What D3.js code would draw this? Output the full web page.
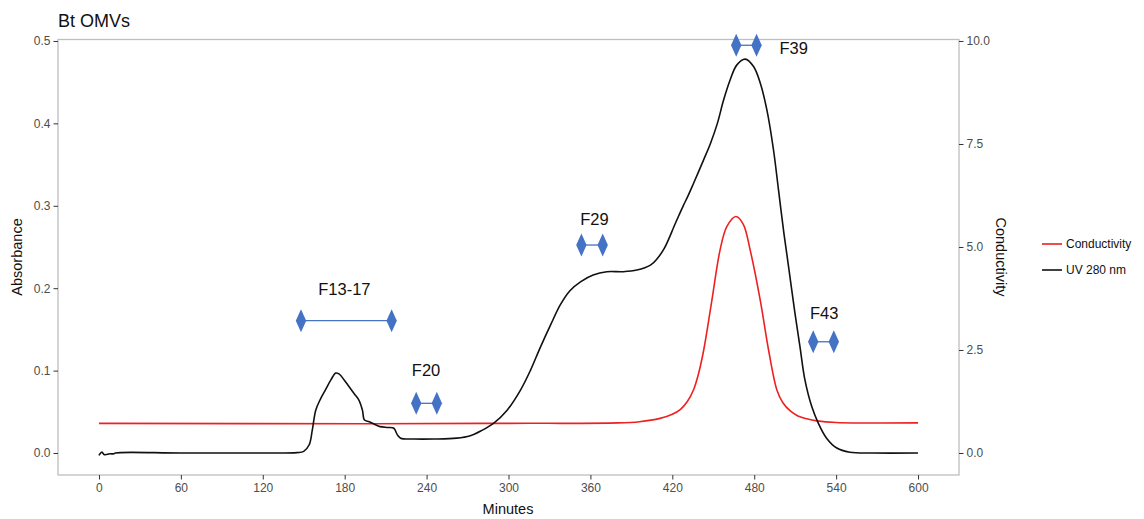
<!DOCTYPE html>
<html>
<head>
<meta charset="utf-8">
<script src="https://cdn.jsdelivr.net/npm/d3@7"></script>
<style>
  body { margin: 0; background: #fff; font-family: "Liberation Sans", Arial, sans-serif; }
  .tick text { fill: #4d4d4d; font-size: 12px; font-family: "Liberation Sans", Arial, sans-serif; }
  .tick line { stroke: #333; }
  .domain { display: none; }
</style>
</head>
<body>
<div id="chart"></div>
<script>
// minutes vs absorbance (UV 280 nm)
var uvTime = [0, 2, 4, 8, 11, 12, 60, 120, 145, 150, 154, 156.3, 158.8, 162.4, 166, 170, 173.4,
  175.8, 179.5, 183, 187, 190.5, 193, 194.5, 198, 203, 206, 212, 216, 218.6, 221, 231, 245, 262,
  272, 280, 289, 299, 309, 316, 323, 331, 338, 345, 353, 362, 372, 384, 394, 404, 409, 414, 418,
  421, 425, 428, 431.5, 435.5, 443, 448, 453, 457.5, 462.4, 467.3, 473.4, 479.5, 484.4, 489.3,
  494.1, 497.8, 501.4, 505.5, 509.8, 513.5, 517.1, 522.2, 527, 533, 540.5, 550, 567, 600];
var uvAbs = [-0.003, 0.001, -0.002, -0.001, -0.001, 0.0, 0.0, 0.0, 0.0005, 0.002, 0.010, 0.028,
  0.052, 0.066, 0.077, 0.089, 0.097, 0.096, 0.089, 0.081, 0.072, 0.064, 0.052, 0.040, 0.038,
  0.034, 0.032, 0.031, 0.030, 0.022, 0.018, 0.017, 0.017, 0.018, 0.021, 0.027, 0.036, 0.052,
  0.077, 0.100, 0.127, 0.156, 0.180, 0.197, 0.208, 0.216, 0.220, 0.220, 0.222, 0.228, 0.236,
  0.248, 0.262, 0.274, 0.289, 0.300, 0.312, 0.327, 0.356, 0.376, 0.400, 0.428, 0.453, 0.471,
  0.478, 0.469, 0.449, 0.416, 0.368, 0.319, 0.271, 0.222, 0.170, 0.129, 0.089, 0.056, 0.036,
  0.018, 0.006, 0.001, 0.0, 0.0];

// minutes vs conductivity
var condTime = [0, 200, 300, 380, 396, 411, 420, 426, 431, 435.5, 439, 443, 449, 455, 460,
  466.6, 472, 477, 484.4, 490.5, 496.6, 501, 506.4, 512, 518.5, 526, 540, 600];
var condVal = [0.72, 0.71, 0.72, 0.73, 0.76, 0.84, 0.94, 1.06, 1.25, 1.53, 1.9, 2.5, 3.71, 4.93,
  5.5, 5.74, 5.55, 4.93, 3.71, 2.5, 1.53, 1.22, 1.02, 0.9, 0.83, 0.78, 0.74, 0.73];

// fraction markers
var fracLabels = ["F13-17", "F20", "F29", "F39", "F43"];
var fracStart = [148, 232.4, 353.4, 466.8, 523.2];
var fracEnd = [214.4, 247.5, 369, 481.7, 538.3];
var fracY = [0.1606, 0.0603, 0.2524, 0.4948, 0.135];
var fracLabelX = [179.8, 239.6, 363, 508.9, 531.2];
var fracLabelY = [0.1987, 0.1011, 0.2836, 0.4915, 0.1695];

var xTicks = [0, 60, 120, 180, 240, 300, 360, 420, 480, 540, 600];
var yTicks = [0, 0.1, 0.2, 0.3, 0.4, 0.5];
var yRightTicks = [0, 2.5, 5, 7.5, 10];

var seriesNames = ["Conductivity", "UV 280 nm"];
var seriesColors = ["#ee2020", "#111111"];

var width = 1144, height = 519;
var svg = d3.select("#chart").append("svg")
  .attr("width", width)
  .attr("height", height);

var x = d3.scaleLinear().domain([-30, 630]).range([58, 959]);
var y = d3.scaleLinear().domain([-0.0267, 0.5018]).range([475, 39.5]);
var yR = d3.scaleLinear().domain([-0.0267 * 20, 0.5018 * 20]).range([475, 39.5]);

svg.append("text")
  .attr("x", 58).attr("y", 27)
  .style("font-size", "18px").attr("fill", "#111")
  .text("Bt OMVs");

svg.append("rect")
  .attr("x", 58).attr("y", 39.5)
  .attr("width", 901).attr("height", 435.5)
  .attr("fill", "none").attr("stroke", "#bfbfbf").attr("stroke-width", 1.3);

svg.append("g").attr("transform", "translate(0,475)")
  .call(d3.axisBottom(x).tickValues(xTicks).tickSize(4.5).tickPadding(4).tickFormat(d3.format("d")));

svg.append("g").attr("transform", "translate(58,0)")
  .call(d3.axisLeft(y).tickValues(yTicks).tickSize(4.5).tickPadding(3).tickFormat(d3.format(".1f")));

svg.append("g").attr("transform", "translate(959,0)")
  .call(d3.axisRight(yR).tickValues(yRightTicks).tickSize(4.5).tickPadding(3).tickFormat(d3.format(".1f")));

// axis titles
svg.append("text")
  .attr("x", 508).attr("y", 514)
  .attr("text-anchor", "middle").style("font-size", "14.5px").attr("fill", "#111")
  .text("Minutes");
svg.append("text")
  .attr("transform", "translate(22,257) rotate(-90)")
  .attr("text-anchor", "middle").style("font-size", "14.5px").attr("fill", "#111")
  .text("Absorbance");
svg.append("text")
  .attr("transform", "translate(996,257) rotate(90)")
  .attr("text-anchor", "middle").style("font-size", "14.5px").attr("fill", "#111")
  .text("Conductivity");

// traces
var condLine = d3.line()
  .x(function(d, i) { return x(condTime[i]); })
  .y(function(d) { return yR(d); })
  .curve(d3.curveCatmullRom.alpha(0.5));
var uvLine = d3.line()
  .x(function(d, i) { return x(uvTime[i]); })
  .y(function(d) { return y(d); })
  .curve(d3.curveCatmullRom.alpha(0.5));

svg.append("path").datum(condVal)
  .attr("d", condLine)
  .attr("fill", "none").attr("stroke", seriesColors[0]).attr("stroke-width", 1.6);
svg.append("path").datum(uvAbs)
  .attr("d", uvLine)
  .attr("fill", "none").attr("stroke", seriesColors[1]).attr("stroke-width", 1.6);

// fraction markers
var blue = "#4472c4";
var diamond = function(cx, cy) {
  return "M" + cx + "," + (cy - 11.5) + "L" + (cx + 5.2) + "," + cy + "L" + cx + "," + (cy + 11.5) +
    "L" + (cx - 5.2) + "," + cy + "Z";
};
var fr = svg.append("g").selectAll("g")
  .data(fracLabels)
  .enter()
  .append("g");
fr.append("line")
  .attr("x1", function(d, i) { return x(fracStart[i]); })
  .attr("x2", function(d, i) { return x(fracEnd[i]); })
  .attr("y1", function(d, i) { return y(fracY[i]); })
  .attr("y2", function(d, i) { return y(fracY[i]); })
  .attr("stroke", blue).attr("stroke-width", 1.3);
fr.append("path")
  .attr("d", function(d, i) { return diamond(x(fracStart[i]), y(fracY[i])); })
  .attr("fill", blue);
fr.append("path")
  .attr("d", function(d, i) { return diamond(x(fracEnd[i]), y(fracY[i])); })
  .attr("fill", blue);
fr.append("text")
  .attr("x", function(d, i) { return x(fracLabelX[i]); })
  .attr("y", function(d, i) { return y(fracLabelY[i]); })
  .attr("dy", "0.36em")
  .attr("text-anchor", "middle")
  .style("font-size", "16.5px").attr("fill", "#111")
  .text(function(d) { return d; });

// legend
var lg = svg.append("g").selectAll("g")
  .data(seriesNames)
  .enter()
  .append("g")
  .attr("transform", function(d, i) { return "translate(1042," + (244 + i * 26) + ")"; });
lg.append("line")
  .attr("x1", 0).attr("x2", 20)
  .attr("stroke", function(d, i) { return seriesColors[i]; })
  .attr("stroke-width", 1.6);
lg.append("text")
  .attr("x", 24).attr("dy", "0.36em")
  .style("font-size", "12px").attr("fill", "#111")
  .text(function(d) { return d; });
</script>
</body>
</html>
